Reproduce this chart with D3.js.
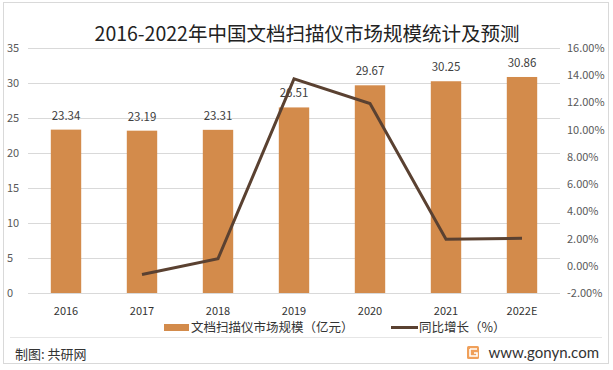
<!DOCTYPE html>
<html>
<head>
<meta charset="utf-8">
<script src="https://cdn.jsdelivr.net/npm/d3@7"></script>
<style>
  body { margin: 0; background: #fff; }
  svg { font-family: "Noto Sans CJK SC", "Noto Sans", sans-serif; }
</style>
</head>
<body>
<div id="chart"></div>
<script>
const years = ['2016', '2017', '2018', '2019', '2020', '2021', '2022E'];
const marketSize = [23.34, 23.19, 23.31, 26.51, 29.67, 30.25, 30.86];
// YoY growth (%), first year has no value
const growth = [null, -0.64, 0.52, 13.73, 11.92, 1.95, 2.02];
const leftTicks = [0, 5, 10, 15, 20, 25, 30, 35];
const rightTicks = [-2, 0, 2, 4, 6, 8, 10, 12, 14, 16];

const width = 613, height = 370;
const margin = { top: 48, right: 53, bottom: 77, left: 28 };
const barColor = '#d38b4b';
const lineColor = '#5a4131';

const svg = d3.select('#chart').append('svg')
  .attr('width', width)
  .attr('height', height);

// frame
svg.append('rect')
  .attr('x', 3.5).attr('y', 2.5)
  .attr('width', 605).attr('height', 361)
  .attr('fill', 'none').attr('stroke', '#d9d9d9');

svg.append('text')
  .attr('x', 307).attr('y', 41)
  .attr('text-anchor', 'middle')
  .attr('font-size', 19.5)
  .attr('fill', '#222')
  .text('2016-2022年中国文档扫描仪市场规模统计及预测');

const x = d3.scaleBand()
  .domain(years)
  .range([margin.left, width - margin.right])
  .paddingInner(0.6)
  .paddingOuter(0.3);

const yL = d3.scaleLinear().domain([0, 35]).range([height - margin.bottom, margin.top]);
const yR = d3.scaleLinear().domain([-2, 16]).range([height - margin.bottom, margin.top]);

// gridlines
svg.append('g')
  .selectAll('line')
  .data(leftTicks)
  .join('line')
  .attr('x1', margin.left).attr('x2', width - margin.right)
  .attr('y1', d => Math.round(yL(d)) + 0.5)
  .attr('y2', d => Math.round(yL(d)) + 0.5)
  .attr('stroke', '#d9d9d9');

// left axis labels
svg.append('g')
  .selectAll('text')
  .data(leftTicks)
  .join('text')
  .attr('x', 7)
  .attr('y', d => yL(d) + 4)
  .attr('font-size', 11)
  .attr('fill', '#595959')
  .text(d => d);

// right axis labels
svg.append('g')
  .selectAll('text')
  .data(rightTicks)
  .join('text')
  .attr('x', 567)
  .attr('y', d => yR(d) + 4)
  .attr('font-size', 11)
  .attr('fill', '#595959')
  .text(d => d.toFixed(2) + '%');

// bars
svg.append('g')
  .selectAll('rect')
  .data(marketSize)
  .join('rect')
  .attr('x', (d, i) => x(years[i]))
  .attr('y', d => yL(d))
  .attr('width', x.bandwidth())
  .attr('height', d => yL(0) - yL(d))
  .attr('fill', barColor);

// bar value labels
svg.append('g')
  .selectAll('text')
  .data(marketSize)
  .join('text')
  .attr('x', (d, i) => x(years[i]) + x.bandwidth() / 2)
  .attr('y', d => yL(d) - 10)
  .attr('text-anchor', 'middle')
  .attr('font-size', 11.5)
  .attr('fill', '#404040')
  .text(d => d.toFixed(2));

// growth line
const line = d3.line()
  .defined(d => d.v !== null)
  .x(d => x(d.year) + x.bandwidth() / 2)
  .y(d => yR(d.v));

svg.append('path')
  .datum(years.map((year, i) => ({ year, v: growth[i] })))
  .attr('d', line)
  .attr('fill', 'none')
  .attr('stroke', lineColor)
  .attr('stroke-width', 3);

// x labels
svg.append('g')
  .selectAll('text')
  .data(years)
  .join('text')
  .attr('x', d => x(d) + x.bandwidth() / 2)
  .attr('y', 315)
  .attr('text-anchor', 'middle')
  .attr('font-size', 11)
  .attr('fill', '#333')
  .text(d => d);

// legend
const legend = svg.append('g');
legend.append('rect')
  .attr('x', 164).attr('y', 324).attr('width', 25).attr('height', 7)
  .attr('fill', barColor);
legend.append('text')
  .attr('x', 191).attr('y', 332)
  .attr('font-size', 12.5).attr('fill', '#333')
  .text('文档扫描仪市场规模（亿元）');
legend.append('line')
  .attr('x1', 391).attr('x2', 418).attr('y1', 327.5).attr('y2', 327.5)
  .attr('stroke', lineColor).attr('stroke-width', 3);
legend.append('text')
  .attr('x', 419).attr('y', 332)
  .attr('font-size', 12.5).attr('fill', '#333')
  .text('同比增长（%）');

// footer
svg.append('line')
  .attr('x1', 10).attr('x2', 602).attr('y1', 337.5).attr('y2', 337.5)
  .attr('stroke', '#e6e6e6');
svg.append('text')
  .attr('x', 15).attr('y', 359)
  .attr('font-size', 13).attr('fill', '#333')
  .text('制图: 共研网');

const logo = svg.append('g').attr('transform', 'translate(467,346)');
logo.append('rect').attr('width', 12).attr('height', 13).attr('rx', 1.5).attr('fill', '#f0a05a');
logo.append('path').attr('d', 'M3,3 H10 M3,3 V10 H10 V7 H7')
  .attr('fill', 'none').attr('stroke', '#fff').attr('stroke-width', 1.6);

svg.append('text')
  .attr('x', 599).attr('y', 358)
  .attr('text-anchor', 'end')
  .attr('font-size', 15).attr('fill', '#333')
  .attr('font-family', 'Lato, "Open Sans", sans-serif')
  .text('www.gonyn.com');
</script>
</body>
</html>
